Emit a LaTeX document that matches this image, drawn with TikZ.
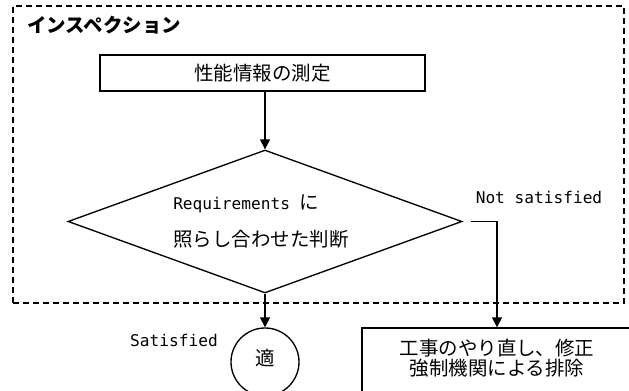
\documentclass[tikz,border=0pt]{standalone}
\usepackage{fontspec}
\setmainfont{Noto Sans CJK JP}
\newfontfamily\latn{DejaVu Sans Mono}[Scale=0.83]
\usetikzlibrary{shapes.geometric,arrows.meta}
\tikzset{
  box/.style={draw,line width=1pt,inner sep=0pt},
  arr/.style={line width=1pt,-{Triangle[width=7.5pt,length=7.5pt]}},
  txt/.style={inner sep=0pt,font=\fontsize{14.6}{15}\selectfont},
  frame/.style={draw,line width=0.9pt,dash pattern=on 4.5pt off 3pt,inner sep=0pt}
}
\begin{document}
\begin{tikzpicture}[x=0.75pt,y=-0.75pt]
\useasboundingbox (0,0) rectangle (629,391);
\clip (0,0) rectangle (629,391);
% dashed frame
\node[frame,minimum width=458.25pt,minimum height=222.75pt] (frm) at (318.5,154.5) {};
\node[txt,anchor=west,font=\fontsize{14.6}{15}\selectfont\bfseries] (title) at (27,25) {インスペクション};
% measurement box
\node[box,minimum width=243.75pt,minimum height=27pt] (meas) at (262.5,73) {};
\node[txt] (meastxt) at (262.5,73) {性能情報の測定};
% decision diamond
\node[box,diamond,minimum width=295.5pt,minimum height=107.25pt] (dec) at (265,221.5) {};
\node[txt,anchor=north west,align=left,font=\fontsize{14.6}{27.75}\selectfont] (dectxt) at (173,194) {{\latn Requirements }に\\照らし合わせた判断};
% outcome circle
\node[box,circle,minimum size=51pt] (ok) at (265,362) {};
\node[txt] (oktxt) at (265,358) {適};
% rework box
\node[box,minimum width=202.5pt,minimum height=54pt] (rework) at (497,364) {};
\node[txt,align=center,font=\fontsize{14.6}{15}\selectfont] (reworktxt) at (497,358) {工事のやり直し、修正\\強制機関による排除};
% labels
\node[txt,font=\latn\fontsize{14.6}{15}\selectfont] (sat) at (174,340) {Satisfied};
\node[txt,font=\latn\fontsize{14.6}{15}\selectfont] (nsat) at (539,197) {Not satisfied};
% connectors
\draw[arr] (dec.north |- meas.south) -- (dec.north);
\draw[arr] (dec.south) -- (ok.north);
\coordinate (nsstart) at ([xshift=6pt]dec.east);
\draw[arr] (nsstart) -| (rework.north);
\end{tikzpicture}
\end{document}
